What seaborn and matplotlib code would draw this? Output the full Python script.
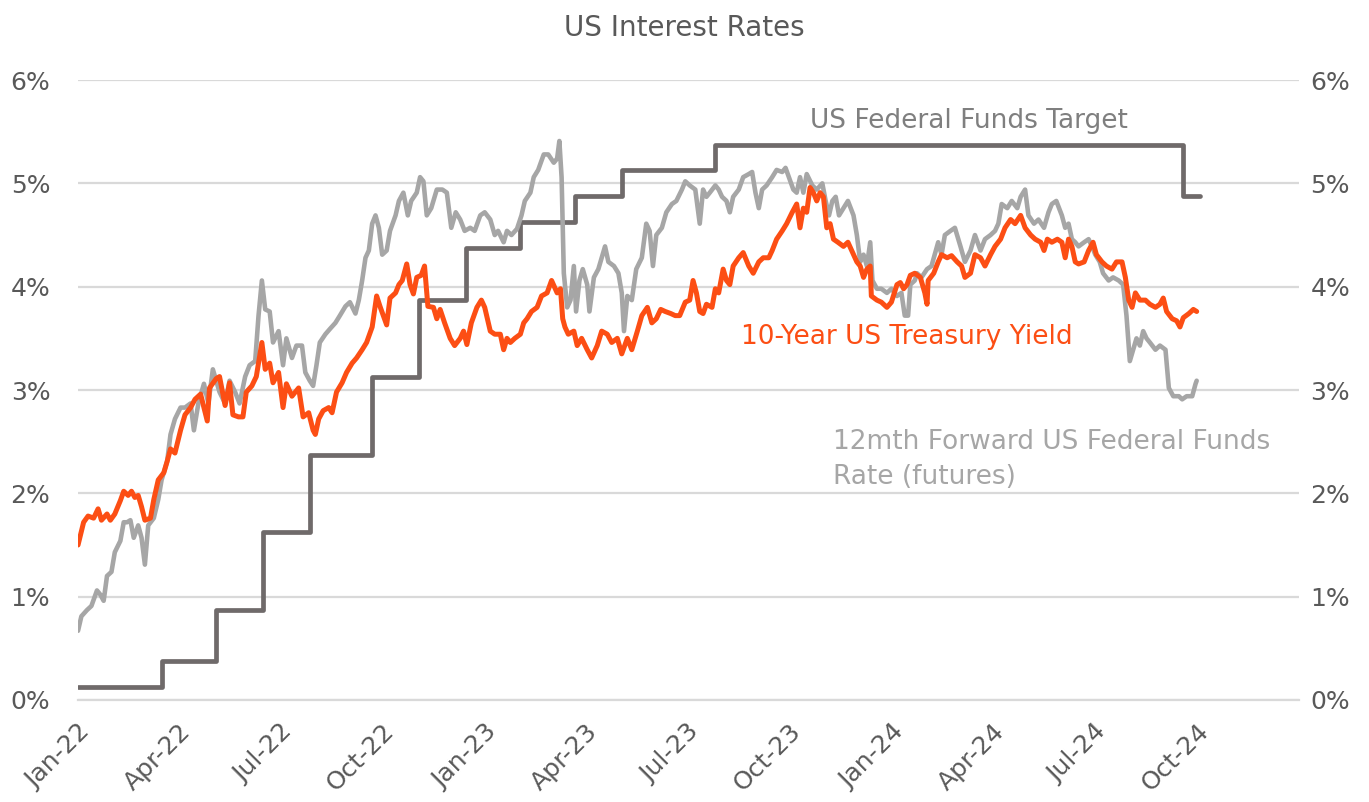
import pandas as pd
import matplotlib
matplotlib.use('Agg')
import matplotlib.pyplot as plt
from matplotlib.ticker import FuncFormatter
import seaborn as sns

START = pd.Timestamp('2022-01-01')

# 10-Year US Treasury yield (days since 1 Jan 2022, %)
ust10_days = [0, 5, 9, 14, 18, 21, 26, 29, 33, 38, 41, 45, 48, 51, 54, 57, 60, 65, 68, 72,
              77, 80, 83, 87, 92, 96, 101, 105, 110, 116, 118, 124, 127, 132, 136, 139, 144, 148, 151, 156,
              160, 165, 168, 172, 175, 180, 184, 187, 192, 195, 198, 202, 207, 211, 213, 216, 220, 225, 228, 232,
              237, 241, 246, 250, 255, 259, 264, 268, 271, 274, 277, 280, 285, 288, 291, 295, 298, 301, 304, 308,
              311, 314, 319, 322, 325, 329, 334, 338, 343, 346, 349, 353, 358, 362, 365, 370, 374, 379, 382, 385,
              388, 392, 397, 400, 403, 407, 412, 416, 421, 425, 430, 433, 435, 437, 440, 445, 448, 452, 457, 461,
              466, 470, 475, 479, 484, 488, 493, 497, 502, 506, 511, 515, 519, 523, 527, 532, 536, 540, 545, 549,
              552, 555, 558, 561, 564, 569, 572, 575, 579, 582, 585, 588, 593, 597, 602, 606, 611, 615, 620, 623,
              627, 632, 636, 641, 645, 648, 651, 654, 657, 660, 663, 666, 669, 672, 675, 678, 682, 687, 691, 696,
              699, 702, 705, 708, 711, 712, 717, 721, 726, 730, 735, 738, 741, 744, 747, 751, 756, 760, 762, 763,
              768, 772, 775, 780, 784, 789, 793, 796, 801, 805, 810, 814, 819, 823, 828, 832, 837, 841, 846, 850,
              855, 859, 864, 867, 870, 874, 879, 883, 886, 889, 892, 895, 898, 903, 907, 911, 914, 919, 923, 928,
              932, 937, 940, 943, 946, 949, 953, 958, 962, 967, 971, 974, 977, 982, 986, 989, 992, 997, 1001, 1004]
ust10_vals = [1.50, 1.72, 1.78, 1.76, 1.85, 1.74, 1.80, 1.74, 1.80, 1.93, 2.02, 1.98, 2.02, 1.96, 1.98, 1.87, 1.74, 1.76, 1.94, 2.13,
              2.20, 2.31, 2.43, 2.39, 2.61, 2.76, 2.83, 2.91, 2.96, 2.70, 3.02, 3.11, 3.13, 2.85, 3.07, 2.76, 2.74, 2.74, 2.98, 3.04,
              3.13, 3.46, 3.20, 3.26, 3.07, 3.17, 2.83, 3.06, 2.94, 2.98, 3.02, 2.74, 2.78, 2.61, 2.57, 2.72, 2.80, 2.83, 2.78, 2.98,
              3.07, 3.17, 3.26, 3.31, 3.39, 3.46, 3.61, 3.91, 3.81, 3.72, 3.63, 3.89, 3.94, 4.02, 4.06, 4.22, 4.02, 3.93, 4.09, 4.11,
              4.20, 3.81, 3.80, 3.69, 3.78, 3.65, 3.50, 3.43, 3.50, 3.57, 3.44, 3.65, 3.80, 3.87, 3.80, 3.57, 3.54, 3.54, 3.39, 3.50,
              3.46, 3.50, 3.54, 3.65, 3.69, 3.76, 3.80, 3.91, 3.94, 4.06, 3.94, 3.98, 3.69, 3.61, 3.54, 3.57, 3.43, 3.50, 3.39, 3.31,
              3.43, 3.57, 3.54, 3.46, 3.50, 3.35, 3.50, 3.39, 3.57, 3.72, 3.80, 3.65, 3.69, 3.78, 3.76, 3.74, 3.72, 3.72, 3.85, 3.87,
              4.06, 3.94, 3.76, 3.74, 3.83, 3.80, 3.98, 3.94, 4.17, 4.06, 4.02, 4.20, 4.28, 4.33, 4.20, 4.13, 4.24, 4.28, 4.28, 4.35,
              4.46, 4.54, 4.61, 4.72, 4.80, 4.57, 4.76, 4.72, 4.96, 4.91, 4.83, 4.91, 4.87, 4.57, 4.61, 4.46, 4.43, 4.39, 4.43, 4.31,
              4.24, 4.20, 4.09, 4.17, 4.20, 3.91, 3.87, 3.85, 3.80, 3.85, 4.02, 4.04, 3.98, 4.02, 4.11, 4.13, 4.09, 3.94, 3.83, 4.06,
              4.13, 4.24, 4.31, 4.28, 4.30, 4.24, 4.20, 4.09, 4.13, 4.31, 4.28, 4.20, 4.31, 4.39, 4.46, 4.57, 4.65, 4.61, 4.69, 4.57,
              4.50, 4.46, 4.43, 4.35, 4.46, 4.43, 4.46, 4.43, 4.28, 4.46, 4.39, 4.24, 4.22, 4.24, 4.35, 4.43, 4.31, 4.24, 4.20, 4.17,
              4.24, 4.24, 4.09, 3.87, 3.80, 3.94, 3.87, 3.87, 3.83, 3.80, 3.83, 3.89, 3.76, 3.69, 3.67, 3.61, 3.70, 3.74, 3.78, 3.76]

# 12mth forward US Fed Funds rate (futures)
fut_days = [0, 3, 8, 12, 17, 20, 23, 26, 30, 33, 38, 41, 44, 47, 50, 54, 57, 60, 63, 68,
            72, 75, 80, 83, 87, 92, 96, 101, 104, 108, 113, 117, 121, 127, 132, 136, 141, 145, 150, 154,
            159, 162, 165, 168, 172, 175, 180, 184, 187, 192, 196, 201, 204, 208, 211, 214, 217, 222, 226, 231,
            235, 240, 244, 249, 252, 255, 258, 261, 264, 267, 270, 273, 277, 280, 285, 288, 292, 296, 299, 304,
            307, 310, 313, 317, 322, 327, 331, 335, 339, 343, 347, 352, 356, 361, 365, 370, 374, 377, 382, 385,
            389, 394, 398, 401, 406, 409, 413, 418, 422, 427, 430, 432, 434, 436, 439, 442, 445, 447, 450, 453,
            457, 459, 463, 467, 470, 473, 476, 481, 485, 488, 490, 493, 497, 501, 506, 510, 513, 516, 519, 524,
            528, 533, 537, 542, 545, 549, 554, 558, 561, 564, 567, 572, 575, 578, 582, 585, 588, 593, 597, 602,
            605, 608, 611, 614, 618, 623, 627, 632, 635, 638, 642, 645, 648, 651, 654, 659, 663, 668, 671, 674,
            677, 680, 683, 687, 691, 696, 699, 702, 705, 708, 711, 713, 717, 721, 726, 730, 735, 739, 742, 745,
            747, 751, 753, 757, 762, 766, 772, 775, 778, 783, 787, 792, 796, 801, 805, 810, 814, 819, 823, 826,
            829, 834, 838, 843, 846, 850, 853, 858, 862, 867, 871, 874, 878, 883, 886, 889, 892, 895, 898, 903,
            907, 910, 913, 917, 920, 925, 929, 934, 938, 941, 944, 947, 950, 953, 956, 959, 962, 967, 971, 976,
            979, 983, 988, 991, 995, 1000, 1003, 1004]
fut_vals = [0.67, 0.81, 0.87, 0.91, 1.06, 1.02, 0.96, 1.20, 1.24, 1.43, 1.54, 1.72, 1.72, 1.74, 1.57, 1.69, 1.57, 1.31, 1.69, 1.76,
            1.94, 2.13, 2.31, 2.57, 2.72, 2.83, 2.83, 2.87, 2.61, 2.87, 3.06, 2.87, 3.20, 2.98, 2.87, 3.09, 2.98, 2.87, 3.13, 3.24,
            3.28, 3.72, 4.06, 3.78, 3.76, 3.46, 3.57, 3.24, 3.50, 3.31, 3.43, 3.43, 3.17, 3.09, 3.04, 3.24, 3.46, 3.54, 3.59, 3.65,
            3.72, 3.81, 3.85, 3.74, 3.87, 4.06, 4.28, 4.35, 4.61, 4.69, 4.57, 4.31, 4.35, 4.54, 4.69, 4.83, 4.91, 4.69, 4.83, 4.91,
            5.06, 5.02, 4.69, 4.76, 4.94, 4.94, 4.91, 4.57, 4.72, 4.65, 4.54, 4.57, 4.54, 4.69, 4.72, 4.65, 4.50, 4.54, 4.43, 4.54,
            4.50, 4.56, 4.69, 4.83, 4.91, 5.06, 5.13, 5.28, 5.28, 5.20, 5.24, 5.41, 5.06, 4.13, 3.80, 3.87, 4.20, 3.76, 4.06, 4.17,
            4.02, 3.76, 4.09, 4.17, 4.28, 4.39, 4.24, 4.20, 4.13, 3.94, 3.57, 3.91, 3.87, 4.17, 4.28, 4.61, 4.54, 4.20, 4.50, 4.57,
            4.72, 4.80, 4.83, 4.94, 5.02, 4.98, 4.94, 4.61, 4.94, 4.87, 4.91, 4.98, 4.94, 4.87, 4.83, 4.72, 4.87, 4.94, 5.06, 5.09,
            5.11, 4.91, 4.76, 4.94, 4.98, 5.06, 5.13, 5.11, 5.15, 5.06, 4.94, 4.91, 5.06, 4.91, 5.09, 4.98, 4.94, 5.00, 4.83, 4.69,
            4.83, 4.87, 4.69, 4.76, 4.83, 4.69, 4.50, 4.24, 4.31, 4.20, 4.43, 4.06, 3.98, 3.98, 3.94, 3.98, 3.91, 3.94, 3.72, 3.72,
            4.02, 4.06, 4.13, 4.09, 4.17, 4.20, 4.43, 4.31, 4.50, 4.54, 4.57, 4.39, 4.24, 4.35, 4.50, 4.35, 4.46, 4.50, 4.54, 4.61,
            4.80, 4.76, 4.83, 4.76, 4.87, 4.94, 4.69, 4.61, 4.65, 4.57, 4.72, 4.80, 4.83, 4.69, 4.57, 4.61, 4.46, 4.43, 4.39, 4.43,
            4.46, 4.39, 4.31, 4.24, 4.13, 4.06, 4.09, 4.06, 4.02, 3.72, 3.28, 3.39, 3.50, 3.43, 3.57, 3.50, 3.46, 3.39, 3.43, 3.39,
            3.02, 2.94, 2.94, 2.91, 2.94, 2.94, 3.06, 3.09]

# US Federal Funds target (mid-point of range), step changes
fed_dates = ['2022-01-01', '2022-03-17', '2022-05-05', '2022-06-16', '2022-07-28', '2022-09-22',
             '2022-11-03', '2022-12-15', '2023-02-02', '2023-03-23', '2023-05-04', '2023-07-27',
             '2024-09-19', '2024-10-04']
fed_vals = [0.125, 0.375, 0.875, 1.625, 2.375, 3.125, 3.875, 4.375, 4.625, 4.875, 5.125, 5.375,
            4.875, 4.875]

quarter_ticks = pd.date_range('2022-01-01', '2025-01-01', freq='QS')

ORANGE = '#FC4E14'
LIGHT = '#A6A6A6'
DARK = '#6F6A6A'
TEXT = '#595959'
GRID = '#D9D9D9'

sns.set_theme(style='white')
plt.rcParams['font.family'] = ['DejaVu Sans']

ust10 = pd.DataFrame({'date': START + pd.to_timedelta(ust10_days, unit='D'), 'rate': ust10_vals})
fut = pd.DataFrame({'date': START + pd.to_timedelta(fut_days, unit='D'), 'rate': fut_vals})
fed = pd.DataFrame({'date': pd.to_datetime(fed_dates), 'rate': fed_vals})

fig = plt.figure(figsize=(13.69, 8.02), dpi=100)
ax = fig.add_axes([0.057, 0.1272, 0.892, 0.773])

sns.lineplot(data=fed, x='date', y='rate', ax=ax, color=DARK, linewidth=3.4,
             drawstyle='steps-post', zorder=3)
sns.lineplot(data=fut, x='date', y='rate', ax=ax, color=LIGHT, linewidth=3.3, zorder=4)
sns.lineplot(data=ust10, x='date', y='rate', ax=ax, color=ORANGE, linewidth=3.6, zorder=5)

ax.set_xlim(pd.Timestamp('2022-01-01'), pd.Timestamp('2025-01-01'))
ax.set_ylim(0, 6)
ax.set_yticks(range(0, 7))
pct = FuncFormatter(lambda v, p: f'{v:.0f}%')
ax.yaxis.set_major_formatter(pct)
ax.grid(axis='y', color=GRID, linewidth=1.6)
ax.set_axisbelow(True)
ax.set_xlabel('')
ax.set_ylabel('')

ax.set_xticks(quarter_ticks)
ax.set_xticklabels([d.strftime('%b-%y') if d.year < 2025 else '' for d in quarter_ticks],
                   rotation=45, ha='right', rotation_mode='anchor')
ax.tick_params(axis='x', length=9, width=1.4, color=GRID, labelsize=18, labelcolor=TEXT, pad=5)
ax.tick_params(axis='y', length=0, labelsize=18, labelcolor=TEXT, pad=20)

for s in ['top', 'left', 'right']:
    ax.spines[s].set_visible(False)
ax.spines['bottom'].set_color(GRID)
ax.spines['bottom'].set_linewidth(1.6)

ax2 = ax.twinx()
ax2.set_ylim(0, 6)
ax2.set_yticks(range(0, 7))
ax2.yaxis.set_major_formatter(pct)
ax2.tick_params(axis='y', length=0, labelsize=18, labelcolor=TEXT, pad=8)
for s in ax2.spines.values():
    s.set_visible(False)

fig.text(0.5, 0.965, 'US Interest Rates', ha='center', va='center', fontsize=20, color=TEXT)

ax.text(pd.Timestamp('2023-10-20'), 5.60, 'US Federal Funds Target', color='#7F7F7F',
        fontsize=19, va='center', ha='left')
ax.text(pd.Timestamp('2023-08-19'), 3.51, '10-Year US Treasury Yield', color=ORANGE,
        fontsize=19, va='center', ha='left')
ax.text(pd.Timestamp('2023-11-10'), 2.33, '12mth Forward US Federal Funds\nRate (futures)',
        color='#A6A6A6', fontsize=19, va='center', ha='left', linespacing=1.45)

fig.savefig('out.png', dpi=100)
